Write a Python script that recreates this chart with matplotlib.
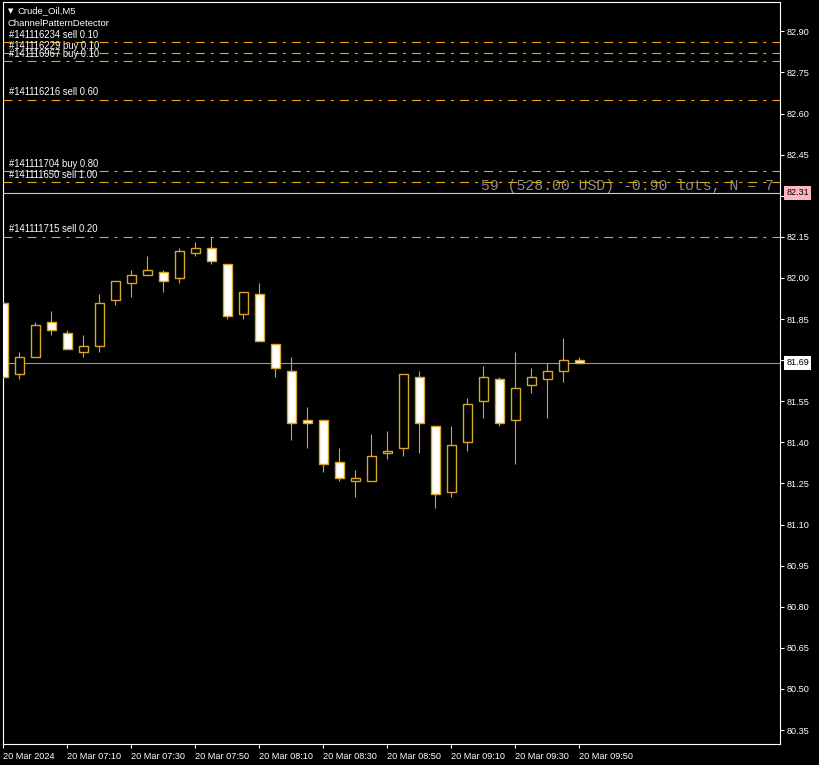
import matplotlib
matplotlib.use("Agg")
import matplotlib.pyplot as plt

# ---------------- data ----------------
opens  = [81.91, 81.65, 81.71, 81.84, 81.80, 81.73, 81.75, 81.92, 81.98, 82.01,
          82.02, 82.00, 82.09, 82.11, 82.05, 81.87, 81.94, 81.76, 81.66, 81.48,
          81.48, 81.33, 81.26, 81.26, 81.36, 81.38, 81.64, 81.46, 81.22, 81.40,
          81.55, 81.63, 81.48, 81.61, 81.63, 81.66, 81.70]
highs  = [81.95, 81.73, 81.84, 81.88, 81.81, 81.79, 81.94, 81.99, 82.03, 82.08,
          82.03, 82.11, 82.13, 82.15, 82.05, 81.95, 81.98, 81.76, 81.71, 81.53,
          81.48, 81.38, 81.30, 81.43, 81.44, 81.65, 81.66, 81.46, 81.46, 81.56,
          81.68, 81.64, 81.73, 81.67, 81.69, 81.78, 81.71]
lows   = [81.56, 81.63, 81.71, 81.79, 81.74, 81.71, 81.73, 81.90, 81.93, 82.01,
          81.95, 81.98, 82.08, 82.05, 81.85, 81.85, 81.77, 81.64, 81.41, 81.38,
          81.29, 81.26, 81.20, 81.26, 81.34, 81.35, 81.36, 81.16, 81.20, 81.37,
          81.49, 81.46, 81.32, 81.58, 81.49, 81.62, 81.69]
closes = [81.64, 81.71, 81.83, 81.81, 81.74, 81.75, 81.91, 81.99, 82.01, 82.03,
          81.99, 82.10, 82.11, 82.06, 81.86, 81.95, 81.77, 81.67, 81.47, 81.47,
          81.32, 81.27, 81.27, 81.35, 81.37, 81.65, 81.47, 81.21, 81.39, 81.54,
          81.64, 81.47, 81.60, 81.64, 81.66, 81.70, 81.69]

time_tick_bars = [0, 4, 8, 12, 16, 20, 24, 28, 32, 36]
time_tick_labels = ["20 Mar 2024", "20 Mar 07:10", "20 Mar 07:30", "20 Mar 07:50",
                    "20 Mar 08:10", "20 Mar 08:30", "20 Mar 08:50", "20 Mar 09:10",
                    "20 Mar 09:30", "20 Mar 09:50"]

price_ticks = [80.35, 80.50, 80.65, 80.80, 80.95, 81.10, 81.25, 81.40, 81.55,
               81.70, 81.85, 82.00, 82.15, 82.30, 82.45, 82.60, 82.75, 82.90]

order_labels = ["#141116234 sell 0.10", "#141116229 buy 0.10", "#141116967 buy 0.10",
                "#141116216 sell 0.60", "#141111704 buy 0.80", "#141111650 sell 1.00",
                "#141111715 sell 0.20"]
order_prices = [82.86, 82.82, 82.79, 82.65, 82.39, 82.35, 82.15]

ask_price = 82.31
bid_price = 81.69
summary_text = "59 (528.00 USD) -0.90 lots, N = 7"
symbol_text = "Crude_Oil,M5"
indicator_text = "ChannelPatternDetector"

# ---------------- style ----------------
plt.rcParams['lines.scale_dashes'] = False
FONT = ['Liberation Sans', 'DejaVu Sans']
CANDLE = '#DAA520'
ORDER = '#F0A30A'
W, H = 820, 765

fig = plt.figure(figsize=(W / 100, H / 100), dpi=100, facecolor='black')
ax = fig.add_axes([3 / W, 21 / H, 777 / W, 742 / H], facecolor='black')

ax.set_xlim(-0.02, 48.54)
ax.set_ylim(80.299, 83.007)

# candles
xs = list(range(len(opens)))
ax.vlines(xs, lows, highs, color=CANDLE, linewidth=0.8, zorder=2)
bottoms = [min(o, c) for o, c in zip(opens, closes)]
heights = [max(abs(c - o), 0.004) for o, c in zip(opens, closes)]
faces = ['white' if c < o else 'black' for o, c in zip(opens, closes)]
ax.bar(xs, heights, bottom=bottoms, width=0.6, color=faces, edgecolor=CANDLE,
       linewidth=1.0, zorder=3)

# summary text (behind order lines)
ax.annotate(summary_text, xy=(1.0, ask_price), xycoords=('axes fraction', 'data'),
            xytext=(-4.5, 2.2), textcoords='offset points', ha='right', va='baseline',
            color='#8f8f8f', fontsize=10.6, family=['Liberation Mono', 'DejaVu Sans Mono'],
            zorder=1)

# order lines
for lab, p in zip(order_labels, order_prices):
    ax.axhline(p, color=ORDER, linewidth=0.8, dashes=(6.5, 4.3, 2.2, 4.3), zorder=4)
    ax.annotate(lab, xy=(0, p), xycoords=('axes fraction', 'data'),
                xytext=(4.6, 1.8), textcoords='offset points', ha='left', va='bottom',
                color='white', fontsize=6.85, family=FONT, zorder=5)

# ask / bid lines
ax.axhline(ask_price, color='#FFB6C1', linewidth=0.8, zorder=4)
ax.axhline(bid_price, color='#969696', linewidth=0.8, zorder=1.5)

# top-left info
ax.text(5 / 777, 1 - 9 / 742, "\u25BC", transform=ax.transAxes, color='white',
        fontsize=5, family=['DejaVu Sans'], va='center', ha='left')
ax.text(15 / 777, 1 - 9 / 742, symbol_text, transform=ax.transAxes, color='white',
        fontsize=6.8, family=FONT, va='center', ha='left')
ax.text(4.5 / 777, 1 - 22 / 742, indicator_text, transform=ax.transAxes, color='white',
        fontsize=6.8, family=FONT, va='center', ha='left')

# axes styling
for s in ax.spines.values():
    s.set_color('white')
    s.set_linewidth(0.8)
ax.yaxis.tick_right()
ax.set_yticks(price_ticks)
# tick labels hidden behind the ask/bid price boxes are left blank
ax.set_yticklabels(["" if min(abs(v - ask_price), abs(v - bid_price)) < 0.03 else f"{v:.2f}"
                    for v in price_ticks])
ax.set_xticks(time_tick_bars)
ax.set_xticklabels(time_tick_labels, ha='left')
ax.tick_params(axis='y', colors='white', length=3, width=0.8, pad=2, labelsize=6.6)
ax.tick_params(axis='x', colors='white', length=3, width=0.8, pad=2.5, labelsize=6.6)
for t in ax.get_xticklabels() + ax.get_yticklabels():
    t.set_family(FONT)

# price labels on the axis
for p, bg in [(ask_price, '#FFB6C1'), (bid_price, 'white')]:
    ax.annotate(f"{p:.2f}", xy=(1.0, p), xycoords=('axes fraction', 'data'),
                xytext=(4.6, 0), textcoords='offset points', ha='left', va='center',
                color='black', fontsize=6.6, family=FONT, zorder=10,
                annotation_clip=False,
                bbox=dict(boxstyle='square,pad=0.25', fc=bg, ec='none'))

fig.savefig("out.png", dpi=100, facecolor='black')
